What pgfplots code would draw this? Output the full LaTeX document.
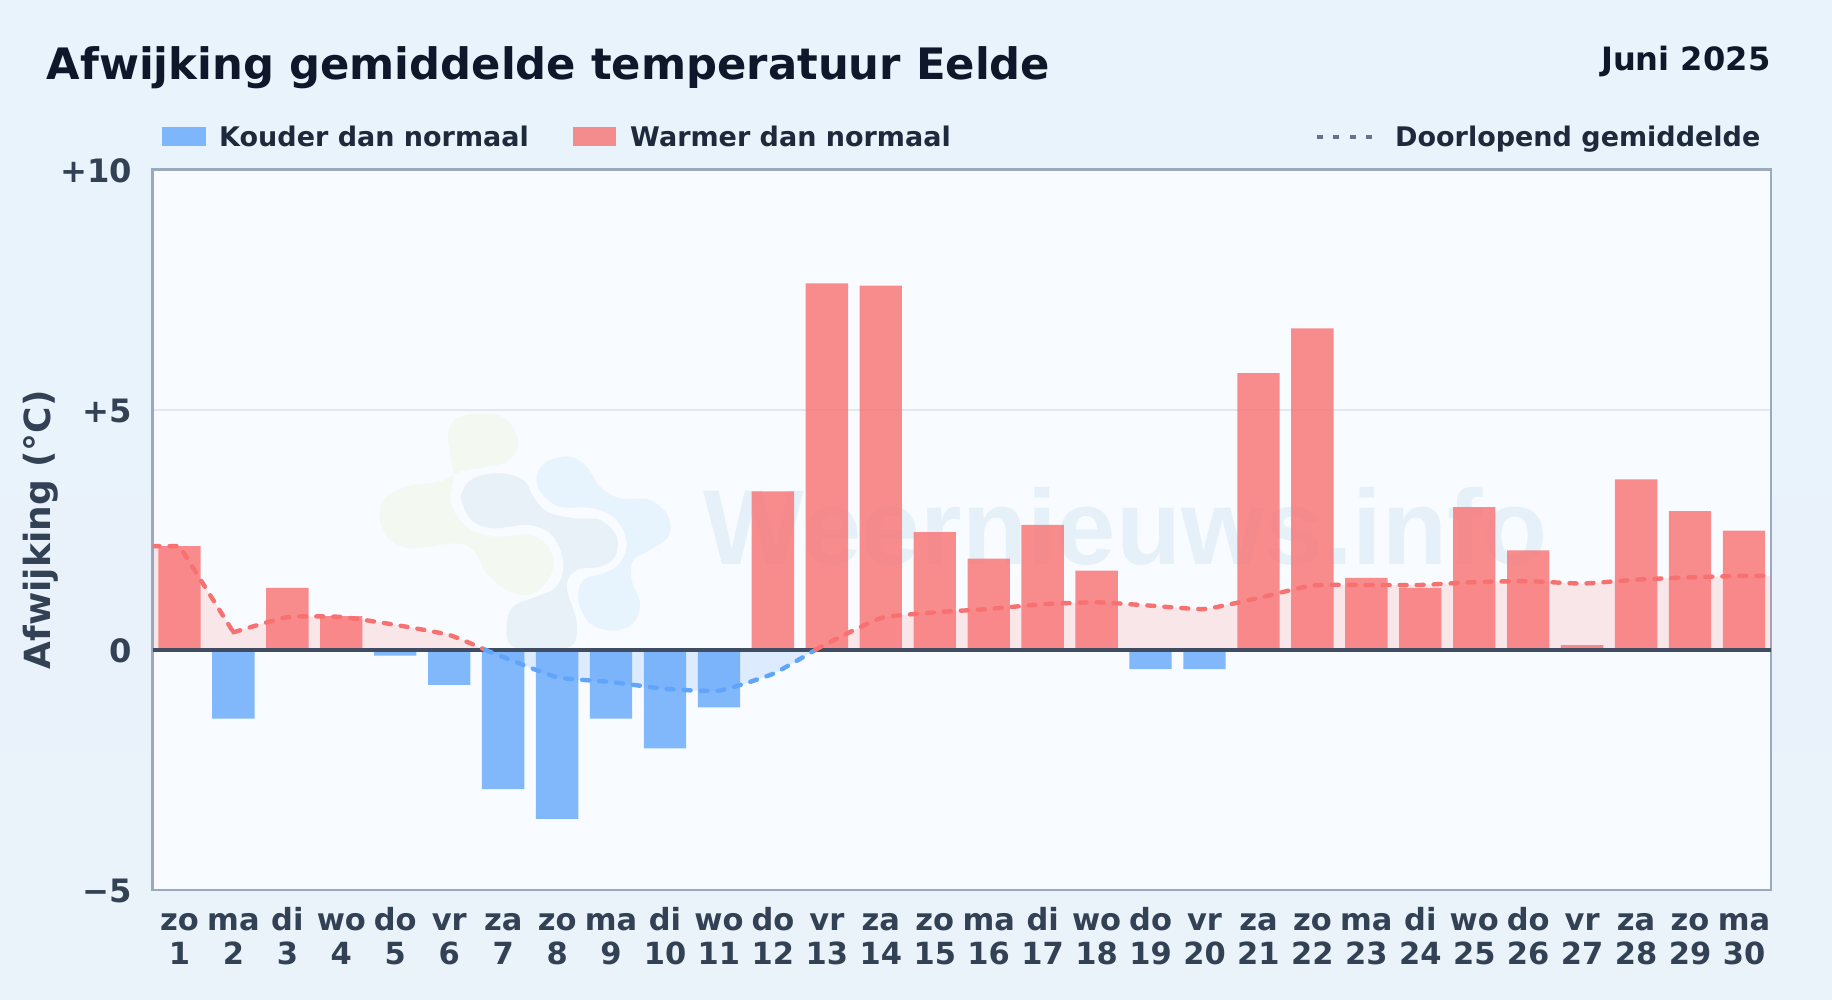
\documentclass[border=0pt]{standalone}
\usepackage{fontspec}
\setmainfont{DejaVu Sans}
\newfontfamily\wmfont{Liberation Sans}
\usepackage{pgfplots}
\pgfplotsset{compat=1.18}
\definecolor{bgc}{HTML}{E8F3FC}
\definecolor{bgd}{HTML}{EAF2FA}
\definecolor{plotbg}{HTML}{F8FBFF}
\definecolor{frame}{HTML}{9AA9BD}
\definecolor{gridc}{HTML}{E2E8F0}
\definecolor{ink}{HTML}{0F172A}
\definecolor{ink2}{HTML}{1E293B}
\definecolor{ink3}{HTML}{334155}
\definecolor{zeroc}{HTML}{3F4C62}
\definecolor{legdot}{HTML}{64748B}
\definecolor{redl}{HTML}{F87171}
\definecolor{bluel}{HTML}{60A5FA}
\definecolor{wm}{HTML}{E6F0F9}
\definecolor{logog}{HTML}{F3F9F1}
\definecolor{logon}{HTML}{E8F0F8}
\definecolor{logob}{HTML}{E8F4FD}
\newcommand\tl[2]{\rule{0pt}{24pt}#1\\#2}
\begin{document}
\begin{tikzpicture}[x=1pt,y=1pt]
\shade[top color=bgc,bottom color=bgd] (0,0) rectangle (1832,1000);
\fill[plotbg] (152.5,110) rectangle (1771,830.5);
% watermark
\node[anchor=base west,inner sep=0,text=wm,font=\fontsize{106.5}{106.5}\wmfont\bfseries] at (703.5,435) {Weernieuws.info};
\begin{scope}[shift={(360,610)},x=0.3333pt,y=-0.3333pt]
\fill[logog] plot[smooth cycle,tension=0.6] coordinates {(265,130)(290,85)(370,70)(440,90)(475,160)(440,215)(370,232)(300,245)(240,275)(140,290)(70,330)(60,390)(90,450)(160,475)(280,460)(340,480)(380,550)(450,605)(520,610)(575,550)(570,480)(510,435)(400,440)(320,410)(272,340)(280,260)(270,190)};
\fill[logon] plot[smooth cycle,tension=0.6] coordinates {(305,310)(340,265)(420,250)(490,270)(520,320)(560,365)(640,385)(720,390)(770,440)(765,500)(720,530)(650,540)(620,590)(650,700)(625,772)(465,772)(440,710)(460,650)(530,620)(590,590)(610,520)(580,440)(510,405)(400,415)(340,395)(310,350)};
\fill[logob] plot[smooth cycle,tension=0.6] coordinates {(530,260)(560,215)(630,200)(680,230)(720,290)(780,325)(870,330)(925,380)(925,440)(870,480)(820,510)(815,570)(840,640)(820,700)(760,722)(690,700)(655,630)(670,570)(730,550)(780,520)(800,460)(770,390)(700,355)(600,350)(545,310)};
\end{scope}
% header
\node[anchor=base west,inner sep=0,text=ink,font=\fontsize{43.3}{43.3}\selectfont\bfseries] at (46.5,920) {Afwijking gemiddelde temperatuur Eelde};
\node[anchor=base east,inner sep=0,text=ink,font=\fontsize{32.1}{32.1}\selectfont\bfseries] at (1770.5,929) {Juni 2025};
% legend
\fill[bluel,opacity=0.78] (162,854) rectangle (206,873);
\node[anchor=base west,inner sep=0,text=ink2,font=\fontsize{27}{27}\selectfont\bfseries] at (219,853) {Kouder dan normaal};
\fill[redl,opacity=0.8] (573,854) rectangle (616,873);
\node[anchor=base west,inner sep=0,text=ink2,font=\fontsize{27}{27}\selectfont\bfseries] at (630,853) {Warmer dan normaal};
\draw[legdot,line width=4pt,dash pattern=on 6pt off 10.4pt] (1317,863) -- (1375,863);
\node[anchor=base west,inner sep=0,text=ink2,font=\fontsize{27}{27}\selectfont\bfseries] at (1395,853) {Doorlopend gemiddelde};
\begin{axis}[
  at={(152.5pt,110pt)},anchor=south west,
  scale only axis,width=1618.5pt,height=720.5pt,
  xmin=0.5,xmax=30.5,ymin=-5,ymax=10,
  axis line style={frame,line width=2.8pt},
  tick style={draw=none},
  ytick={-5,0,5,10},
  yticklabels={−5,0,+5,+10},
  yticklabel style={font=\fontsize{32.2}{36}\selectfont\bfseries,text=ink3,xshift=-16.7pt,yshift=-1pt},
  xtick={1,2,...,30},
  xticklabels={{\tl{zo}{1}},{\tl{ma}{2}},{\tl{di}{3}},{\tl{wo}{4}},{\tl{do}{5}},{\tl{vr}{6}},{\tl{za}{7}},{\tl{zo}{8}},{\tl{ma}{9}},{\tl{di}{10}},{\tl{wo}{11}},{\tl{do}{12}},{\tl{vr}{13}},{\tl{za}{14}},{\tl{zo}{15}},{\tl{ma}{16}},{\tl{di}{17}},{\tl{wo}{18}},{\tl{do}{19}},{\tl{vr}{20}},{\tl{za}{21}},{\tl{zo}{22}},{\tl{ma}{23}},{\tl{di}{24}},{\tl{wo}{25}},{\tl{do}{26}},{\tl{vr}{27}},{\tl{za}{28}},{\tl{zo}{29}},{\tl{ma}{30}}},
  xticklabel style={font=\fontsize{30.5}{34.2}\selectfont\bfseries,text=ink3,align=center,yshift=-13pt},
  ymajorgrids,grid style={gridc,line width=2pt},
  every axis y label/.style={at={(axis description cs:-0.069,0.5)},rotate=90,anchor=center},
  ylabel={Afwijking (°C)},
  ylabel style={font=\fontsize{36}{36}\selectfont\bfseries,text=ink3},
]
% area under the running mean
\addplot[draw=none,fill=redl,fill opacity=0.15] coordinates {(0.5,2.16)(1,2.16)(2,0.365)} \closedcycle;
\addplot[draw=none,fill=redl,fill opacity=0.15,smooth,tension=0.3] coordinates {(2,0.365)(3,0.68)(4,0.685)(5,0.52)(6,0.31)(6.67,0)} \closedcycle;
\addplot[draw=none,fill=bluel,fill opacity=0.18,smooth,tension=0.3] coordinates {(6.67,0)(7,-0.15)(8,-0.57)(9,-0.67)(10,-0.81)(11,-0.85)(12,-0.5)(12.79,0)} \closedcycle;
\addplot[draw=none,fill=redl,fill opacity=0.15,smooth,tension=0.3] coordinates {(12.79,0)(13,0.13)(14,0.66)(15,0.78)(16,0.85)(17,0.95)(18,0.99)(19,0.92)(20,0.85)(21,1.08)(22,1.34)(23,1.35)(24,1.35)(25,1.41)(26,1.43)(27,1.38)(28,1.46)(29,1.51)(30,1.54)(30.5,1.54)} \closedcycle;
% bars
\addplot[ybar,bar width=0.785,bar shift=0pt,draw=none,fill=redl,fill opacity=0.8] coordinates {(1,2.16)(3,1.29)(4,0.7)(12,3.3)(13,7.63)(14,7.58)(15,2.45)(16,1.9)(17,2.6)(18,1.65)(21,5.76)(22,6.69)(23,1.5)(24,1.29)(25,2.97)(26,2.07)(27,0.1)(28,3.55)(29,2.89)(30,2.48)};
\addplot[ybar,bar width=0.785,bar shift=0pt,draw=none,fill=bluel,fill opacity=0.78] coordinates {(2,-1.43)(5,-0.12)(6,-0.73)(7,-2.9)(8,-3.52)(9,-1.43)(10,-2.05)(11,-1.2)(19,-0.4)(20,-0.4)};
% zero line
\addplot[zeroc,line width=4pt] coordinates {(0.5,0)(30.5,0)};
% running mean
\addplot[redl,line width=4.4pt,line cap=round,dash pattern=on 7pt off 10pt] coordinates {(0.5,2.16)(1,2.16)(2,0.365)};
\addplot[redl,line width=4.4pt,line cap=round,dash pattern=on 7pt off 10pt,smooth,tension=0.3] coordinates {(2,0.365)(3,0.68)(4,0.685)(5,0.52)(6,0.31)(6.67,0)};
\addplot[bluel,line width=4.4pt,line cap=round,dash pattern=on 7pt off 10pt,smooth,tension=0.3] coordinates {(6.67,0)(7,-0.15)(8,-0.57)(9,-0.67)(10,-0.81)(11,-0.85)(12,-0.5)(12.79,0)};
\addplot[redl,line width=4.4pt,line cap=round,dash pattern=on 7pt off 10pt,smooth,tension=0.3] coordinates {(12.79,0)(13,0.13)(14,0.66)(15,0.78)(16,0.85)(17,0.95)(18,0.99)(19,0.92)(20,0.85)(21,1.08)(22,1.34)(23,1.35)(24,1.35)(25,1.41)(26,1.43)(27,1.38)(28,1.46)(29,1.51)(30,1.54)(30.5,1.54)};
\end{axis}
\end{tikzpicture}
\end{document}
